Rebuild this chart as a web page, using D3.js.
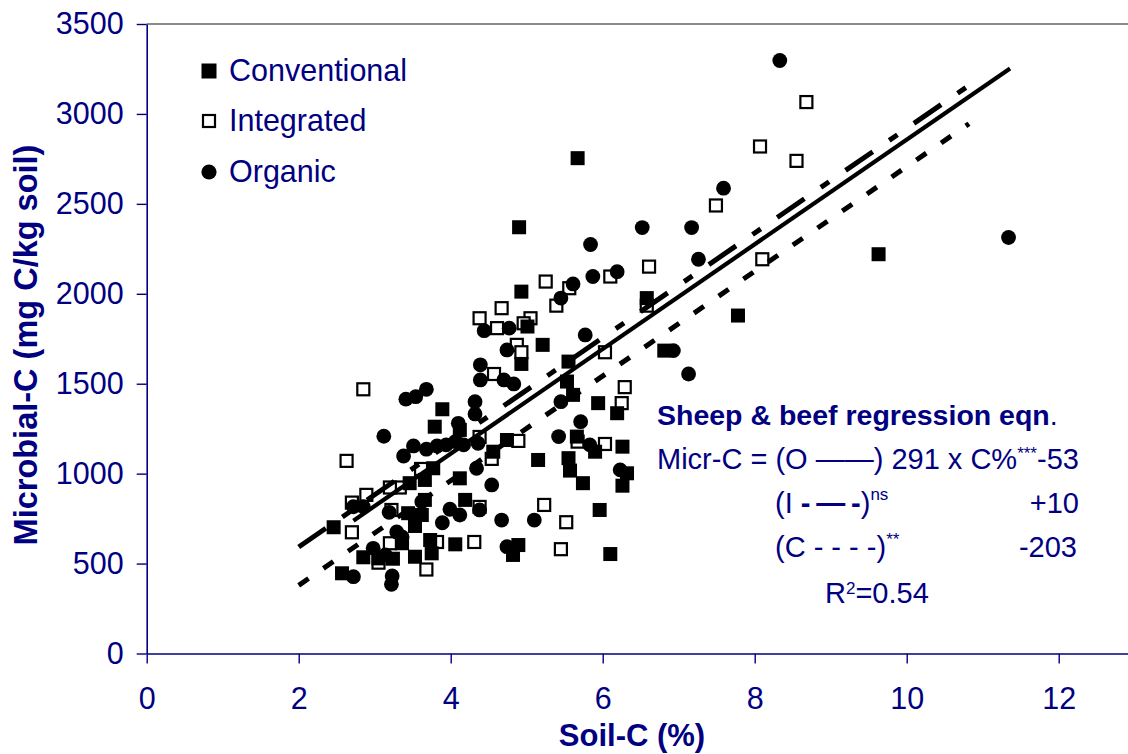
<!DOCTYPE html>
<html><head><meta charset="utf-8">
<script src="https://cdn.jsdelivr.net/npm/d3@7"></script>
<style>
html,body{margin:0;padding:0;background:#fff;}
svg{display:block;font-family:"Liberation Sans", Arial, Helvetica, sans-serif;}
</style></head><body>
<svg id="chart" width="1128" height="754"></svg>
<script>
// ---- data (Soil-C %, Microbial-C mg C/kg soil) ----
const conventional = [[5.67,2754],[4.90,2370],[4.93,2012],[6.58,1976],[5.01,1818],[5.21,1716],[4.93,1610],[5.55,1623],[6.81,1684],[7.78,1879],[9.63,2220],[5.53,1512],[5.61,1438],[5.94,1392],[6.19,1336],[3.89,1358],[4.12,1243],[3.79,1261],[4.74,1187],[4.56,1122],[5.66,1206],[5.90,1122],[6.26,1150],[5.15,1076],[5.55,1086],[5.57,1017],[5.74,947],[6.32,1002],[6.26,933],[4.12,974],[4.19,854],[5.96,798],[6.10,553],[4.89,603],[4.82,548],[4.06,607],[3.73,631],[3.75,557],[3.77,1030],[3.66,965],[3.46,947],[3.66,854],[3.44,780],[3.62,770],[3.53,709],[3.36,613],[3.53,538],[2.85,535],[3.05,529],[3.24,527],[2.57,446],[2.46,702]];
const integrated = [[8.68,3066],[8.07,2819],[8.55,2739],[7.49,2491],[8.10,2192],[6.61,2151],[6.10,2096],[5.25,2068],[5.56,2031],[5.39,1934],[6.58,1934],[4.67,1920],[4.38,1864],[5.05,1864],[4.96,1836],[4.61,1809],[4.87,1716],[4.93,1675],[6.03,1675],[4.57,1554],[6.29,1481],[6.25,1392],[4.38,1204],[4.89,1182],[4.54,1082],[6.03,1165],[5.67,1178],[2.85,1469],[2.63,1071],[3.61,1026],[3.33,923],[3.20,923],[2.89,882],[2.70,839],[3.22,798],[2.70,674],[3.20,613],[3.82,620],[4.31,620],[4.38,815],[5.23,826],[5.52,730],[5.45,580],[3.05,505],[3.68,467]];
const organic = [[8.33,3297],[11.34,2313],[7.59,2587],[6.52,2368],[7.17,2368],[5.84,2274],[7.26,2192],[6.19,2123],[5.87,2096],[5.61,2055],[5.45,1976],[4.44,1795],[4.77,1809],[4.74,1688],[5.77,1771],[6.93,1684],[7.13,1554],[4.39,1605],[4.39,1521],[4.70,1521],[4.83,1499],[5.45,1400],[5.71,1289],[4.32,1400],[4.32,1332],[3.41,1414],[3.54,1428],[3.68,1469],[3.12,1208],[4.10,1280],[3.38,1098],[3.51,1154],[3.68,1136],[3.82,1154],[3.94,1160],[4.06,1178],[4.17,1160],[4.36,1169],[5.42,1206],[5.83,1160],[6.23,1021],[4.34,1030],[4.54,937],[3.99,802],[4.12,770],[4.38,798],[3.89,727],[4.67,742],[5.10,742],[4.74,594],[3.62,844],[3.19,785],[2.72,816],[2.85,816],[3.29,676],[3.36,648],[2.98,585],[3.14,548],[2.72,427],[3.23,431],[3.22,385]];
const xTicks = [0,2,4,6,8,10,12];
const yTicks = [0,500,1000,1500,2000,2500,3000,3500];
const legendLabels = ["Conventional","Integrated","Organic"];
const regSlope = 291;
const regKeys = ["O","I","C"];
const regIntercepts = [-53,10,-203];
const regXStart = [2.72,2.0,2.0];
const regXEnd = [11.36,10.88,10.82];

// ---- drawing ----
const NAVY = "#000080";
const svg = d3.select("#chart");
const x = d3.scaleLinear().domain([0,13]).range([146.7,146.7+13*76]);
const y = d3.scaleLinear().domain([0,3500]).range([653.5,24]);

// top frame line
svg.append("line").attr("x1",x(0)).attr("x2",1128).attr("y1",y(3500)).attr("y2",y(3500))
  .attr("stroke","#8a8a8a").attr("stroke-width",2);

const yAxis = svg.append("g").attr("transform",`translate(${x(0)},0)`)
  .call(d3.axisLeft(y).tickValues(yTicks).tickFormat(d3.format("d")).tickSize(10).tickSizeOuter(0).tickPadding(13));
const xAxis = svg.append("g").attr("transform",`translate(0,${y(0)})`)
  .call(d3.axisBottom(x).tickValues(xTicks).tickFormat(d3.format("d")).tickSize(10).tickSizeOuter(0).tickPadding(24));
[yAxis,xAxis].forEach(g=>{
  g.select(".domain").attr("stroke",NAVY).attr("stroke-width",1.6);
  g.selectAll(".tick line").attr("stroke",NAVY).attr("stroke-width",1.4);
  g.selectAll(".tick text").attr("fill",NAVY).attr("font-size",30.5)
    .attr("font-family","'Liberation Sans', Arial, sans-serif");
});

// axis titles
svg.append("text").attr("x",632).attr("y",746).attr("text-anchor","middle")
  .attr("font-size",31).attr("font-weight","bold").attr("fill",NAVY).text("Soil-C (%)");
svg.append("text").attr("transform","translate(37,345) rotate(-90)").attr("text-anchor","middle")
  .attr("font-size",32.5).attr("font-weight","bold").attr("fill",NAVY).text("Microbial-C (mg C/kg soil)");

// points
const S = 14;
svg.append("g").selectAll("rect").data(integrated).join("rect")
  .attr("x",d=>x(d[0])-(S-2)/2).attr("y",d=>y(d[1])-(S-2)/2)
  .attr("width",S-2).attr("height",S-2).attr("fill","#fff").attr("stroke","#000").attr("stroke-width",2.2);
svg.append("g").selectAll("rect").data(conventional).join("rect")
  .attr("x",d=>x(d[0])-S/2).attr("y",d=>y(d[1])-S/2)
  .attr("width",S).attr("height",S).attr("fill","#000");
svg.append("g").selectAll("circle").data(organic).join("circle")
  .attr("cx",d=>x(d[0])).attr("cy",d=>y(d[1])).attr("r",7.4).attr("fill","#000");

// regression lines
const regStyle = {O:{w:4.2,dash:null},I:{w:5,dash:"33,20,10,20"},C:{w:5,dash:"12,18"}};
regKeys.forEach((k,i)=>{
  const pts = [regXStart[i],regXEnd[i]].map(v=>[v,regSlope*v+regIntercepts[i]]);
  svg.append("path").attr("d",d3.line().x(d=>x(d[0])).y(d=>y(d[1]))(pts))
    .attr("fill","none").attr("stroke","#000").attr("stroke-width",regStyle[k].w)
    .attr("stroke-dasharray",regStyle[k].dash);
});

// legend
const lg = svg.append("g");
const legY = [71,121,172];
lg.append("rect").attr("x",201.5).attr("y",legY[0]-7.5).attr("width",15).attr("height",15).attr("fill","#000");
lg.append("rect").attr("x",203).attr("y",legY[1]-6).attr("width",12).attr("height",12).attr("fill","#fff").attr("stroke","#000").attr("stroke-width",2.2);
lg.append("circle").attr("cx",209).attr("cy",legY[2]).attr("r",7.6).attr("fill","#000");
legendLabels.forEach((t,i)=>{
  lg.append("text").attr("x",229).attr("y",legY[i]+9.5).attr("font-size",30.5).attr("fill",NAVY).text(t);
});

// regression equation block
const eq = svg.append("g").attr("fill",NAVY);
const t1 = eq.append("text").attr("x",657).attr("y",425).attr("font-size",28.5);
t1.append("tspan").attr("font-weight","bold").text("Sheep & beef regression eqn");
t1.append("tspan").text(".");
const t2 = eq.append("text").attr("x",657).attr("y",469).attr("font-size",29);
t2.append("tspan").text("Micr-C = (O \u2014\u2014) 291 x C%");
t2.append("tspan").attr("font-size",17).attr("dy",-10).text("***");
t2.append("tspan").attr("dy",10).text("-53");
const t3 = eq.append("text").attr("x",775).attr("y",513).attr("font-size",29);
t3.append("tspan").text("(I ");
t3.append("tspan").attr("font-weight","bold").text("-\u2009\u2014\u2009-");
t3.append("tspan").text(")");
t3.append("tspan").attr("font-size",17).attr("dy",-13).text("ns");
eq.append("text").attr("x",1079).attr("y",513).attr("font-size",29).attr("text-anchor","end").text("+10");
const t4 = eq.append("text").attr("x",775).attr("y",557).attr("font-size",29);
t4.append("tspan").text("(C - - - -)");
t4.append("tspan").attr("font-size",17).attr("dy",-12).text("**");
eq.append("text").attr("x",1077).attr("y",557).attr("font-size",29).attr("text-anchor","end").text("-203");
const t5 = eq.append("text").attr("x",825).attr("y",603).attr("font-size",29);
t5.append("tspan").text("R");
t5.append("tspan").attr("font-size",17).attr("dy",-9).text("2");
t5.append("tspan").attr("dy",9).text("=0.54");
</script>
</body></html>
